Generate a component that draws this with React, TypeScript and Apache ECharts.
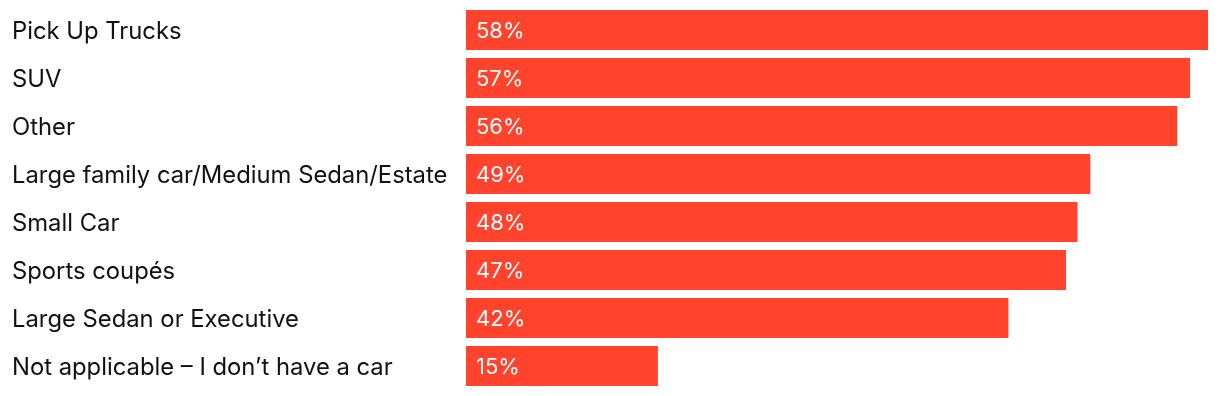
import React, { useEffect, useRef } from "react";
import * as echarts from "echarts";

const categories = [
  "Pick Up Trucks",
  "SUV",
  "Other",
  "Large family car/Medium Sedan/Estate",
  "Small Car",
  "Sports coupés",
  "Large Sedan or Executive",
  "Not applicable – I don’t have a car",
];
const values = [58.0, 56.6, 55.6, 48.8, 47.8, 46.9, 42.4, 15.0];

export default function App() {
  const ref = useRef<HTMLDivElement>(null);
  useEffect(() => {
    if (!ref.current) return;
    const chart = echarts.init(ref.current, null, { renderer: "svg" });
    chart.setOption({
      animation: false,
      grid: { left: 466, right: 12, top: 6, bottom: 6, containLabel: false },
      xAxis: {
        type: "value",
        min: 0,
        max: 58,
        show: false,
      },
      yAxis: {
        type: "category",
        data: categories,
        inverse: true,
        axisLine: { show: false },
        axisTick: { show: false },
        axisLabel: {
          align: "left",
          margin: 454,
          color: "#111111",
          fontFamily: "Inter",
          fontSize: 23.8,
        },
      },
      series: [
        {
          type: "bar",
          data: values,
          barCategoryGap: "16.67%",
          itemStyle: { color: "#FF432C" },
          label: {
            show: true,
            position: "insideLeft",
            distance: 10,
            color: "#ffffff",
            fontFamily: "Inter",
            fontSize: 22,
            formatter: (p: any) => Math.round(p.value) + "%",
          },
        },
      ],
    });
    return () => chart.dispose();
  }, []);
  return (
    <div
      ref={ref}
      style={{ position: "fixed", left: 0, top: 0, width: 1220, height: 396 }}
    />
  );
}
